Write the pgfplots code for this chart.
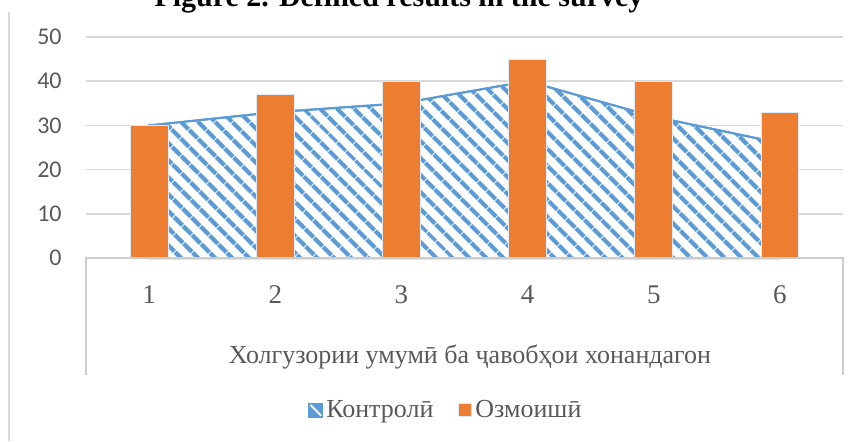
\documentclass[border=0pt]{standalone}
\usepackage{fontspec}
\setmainfont{Liberation Serif}
\newfontfamily\carlito{Carlito}
\usepackage{pgfplots}
\pgfplotsset{compat=1.18}
\usetikzlibrary{patterns.meta}
\definecolor{cblue}{HTML}{5B9BD5}
\definecolor{corange}{HTML}{ED7D31}
\definecolor{cgrid}{HTML}{D9D9D9}
\definecolor{caxis}{HTML}{CCCCCC}
\definecolor{ctext}{HTML}{595959}
\definecolor{cedge}{HTML}{DEEBF7}
\begin{document}
\begin{tikzpicture}
\useasboundingbox (0,0) rectangle (430pt,220.5pt);
\draw[cgrid, line width=0.75pt] (4.5pt,0) -- (4.5pt,214.5pt);
\node[anchor=base, font=\fontsize{15}{18}\selectfont\bfseries, inner sep=0pt] at (199.5pt,217.5pt) {Figure 2. Defined results in the survey};
\begin{axis}[
  at={(43pt,91.5pt)}, anchor=south west,
  scale only axis, width=378.5pt, height=110.5pt,
  xmin=0.5, xmax=6.5, ymin=0, ymax=50,
  xtick={1,2,3,4,5,6}, ytick={0,10,20,30,40,50},
  major tick length=0pt,
  axis line style={draw=none},
  ymajorgrids, grid style={cgrid, line width=0.75pt},
  clip=false,
  /pgf/number format/assume math mode=true,
  xticklabel style={font=\fontsize{13.5}{15}\selectfont, text=ctext, anchor=base, inner sep=0pt, yshift=-22.5pt},
  yticklabel style={font=\carlito\fontsize{12}{14}\selectfont, text=ctext, anchor=east, inner sep=0pt, xshift=-12pt},
  xlabel={Холгузории умумӣ ба ҷавобҳои хонандагон},
  xlabel style={at={(axis description cs:0.5,0)}, anchor=base, inner sep=0pt, yshift=-52.5pt, xshift=2.75pt, font=\fontsize{13}{15}\selectfont, text=ctext},
  legend style={at={(axis description cs:0.476,-0.688)}, anchor=center, draw=none, fill=none,
    font=\fontsize{13}{15}\selectfont, text=ctext, inner sep=0pt,
    nodes={inner sep=1.5pt},
    /tikz/every even column/.append style={column sep=11pt}},
  legend columns=2, legend cell align=left,
]
\addplot[draw=cblue, line width=1pt, fill=white,
  postaction={pattern={Lines[angle=-45,distance=6.5pt,line width=2.4pt]}, pattern color=cblue},
  legend image code/.code={
    \fill[cblue] (0pt,-3.25pt) rectangle (6.5pt,3.25pt);
    \draw[white, line width=0.8pt] (0.6pt,2.6pt) -- (5.9pt,-2.7pt);
  }]
  coordinates {(1,30) (2,33) (3,35) (4,40) (5,32) (6,26)} \closedcycle;
\addlegendentry{Контролӣ}
\addplot[ybar, bar width=0.3, fill=corange, draw=cedge, line width=0.5pt,
  legend image code/.code={
    \fill[corange, draw=cedge, line width=0.5pt] (0pt,-3.25pt) rectangle (6.5pt,3.25pt);
  }]
  coordinates {(1,30) (2,37) (3,40) (4,45) (5,40) (6,33)};
\addlegendentry{Озмоишӣ}
\draw[caxis, line width=0.75pt] (rel axis cs:0,-0.529) -- (rel axis cs:0,0) -- (rel axis cs:1,0) -- (rel axis cs:1,-0.529);
\end{axis}
\end{tikzpicture}
\end{document}
